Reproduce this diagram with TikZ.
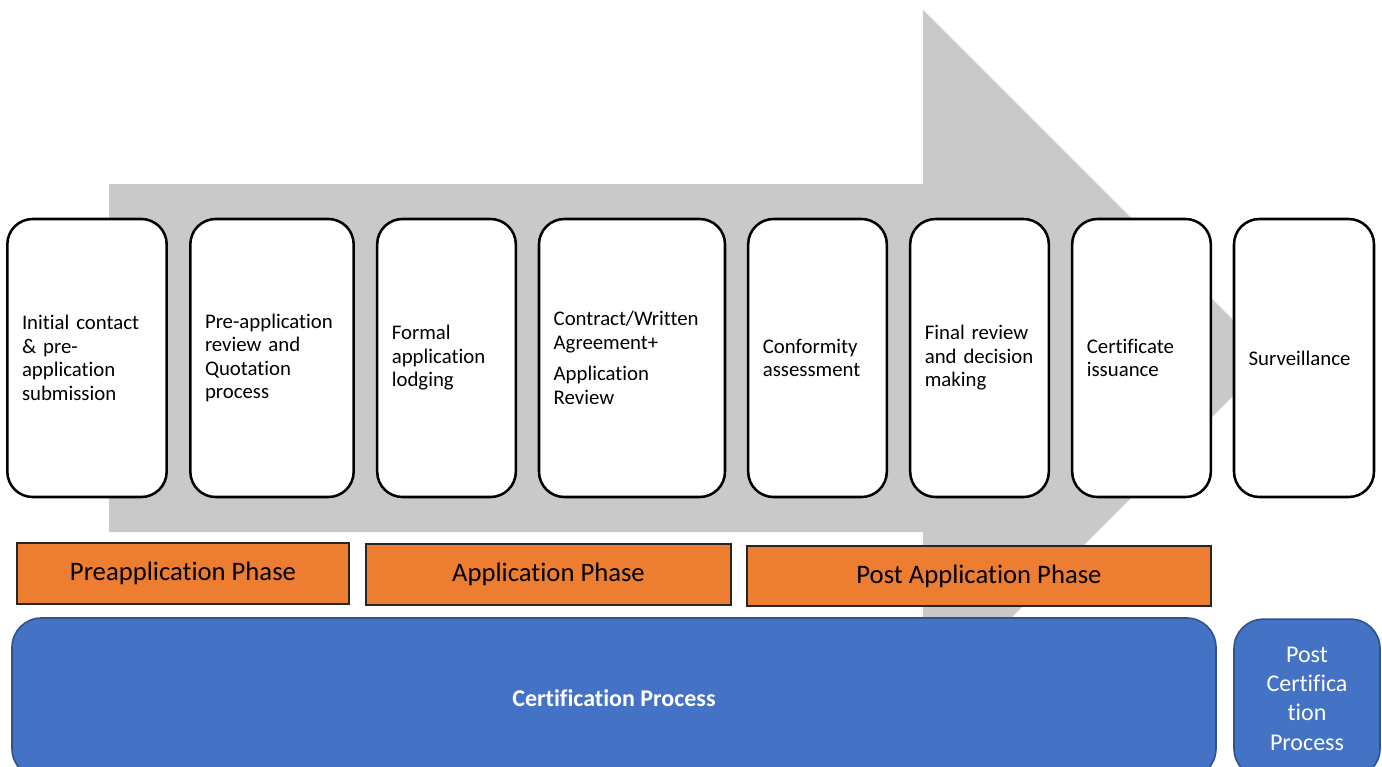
\documentclass[tikz,border=0pt]{standalone}
\usepackage{fontspec}
\setmainfont{Carlito}[Ligatures={NoCommon}]
\definecolor{arrowgray}{HTML}{C9C9C9}
\definecolor{phaseorange}{HTML}{ED7D31}
\definecolor{procblue}{HTML}{4472C4}
\definecolor{procborder}{HTML}{2F528F}
\tikzset{
  stepbox/.style={draw=black, line width=1.9pt, fill=white, rounded corners=19pt,
    minimum height=208.5pt, inner xsep=11pt, inner ysep=0pt, align=left,
    font=\fontsize{15.6pt}{17.6pt}\selectfont},
  phasebox/.style={draw=black!85, line width=0.8pt, fill=phaseorange, inner sep=0pt,
    font=\fontsize{20pt}{22pt}\selectfont},
  procbox/.style={draw=procborder, line width=1.2pt, fill=procblue, rounded corners=22pt,
    inner sep=0pt, text=white, align=center},
}
\begin{document}
\begin{tikzpicture}[x=0.75pt, y=-0.75pt]
\useasboundingbox (0,0) rectangle (1382,767);
\clip (0,0) rectangle (1382,767);
% big gray arrow
\fill[arrowgray] (109,184) -- (923,184) -- (923,10) -- (1271,358) -- (923,706) -- (923,532) -- (109,532) -- cycle;
% steps
\node[stepbox, text width=97.5pt] (s1) at (87,358) {Initial contact\\\& pre-\\application\\submission};
\node[stepbox, text width=100.5pt] (s2) at (272,358) {Pre-application\\review and\\Quotation\\process};
\node[stepbox, text width=82pt] (s3) at (446.5,358) {Formal\\application\\lodging};
\node[stepbox, text width=117.5pt] (s4) at (632,358) {Contract/Written\\Agreement+\\[6pt]Application\\Review};
\node[stepbox, text width=82pt] (s5) at (817.5,358) {Conformity\\assessment};
\node[stepbox, text width=82pt] (s6) at (979.5,358) {Final review\\and decision\\making};
\node[stepbox, text width=82pt] (s7) at (1141.5,358) {Certificate\\issuance};
\node[stepbox, text width=83pt] (s8) at (1304,358) {Surveillance};
% phases
\node[phasebox, minimum width=249pt, minimum height=45.75pt] (p1) at (183,573.5) {Preapplication Phase};
\node[phasebox, minimum width=273.75pt, minimum height=45.75pt] (p2) at (548.5,574.5) {Application Phase};
\node[phasebox, minimum width=348pt, minimum height=45pt] (p3) at (979,576) {Post Application Phase};
% processes
\node[procbox, minimum width=903pt, minimum height=120pt, font=\bfseries\fontsize{18pt}{20pt}\selectfont] (c1) at (614,698) {Certification Process};
\node[procbox, minimum width=109.5pt, minimum height=119pt, font=\fontsize{18pt}{22pt}\selectfont] (c2) at (1307,698.5) {Post\\Certifica\\tion\\Process};
\end{tikzpicture}
\end{document}
